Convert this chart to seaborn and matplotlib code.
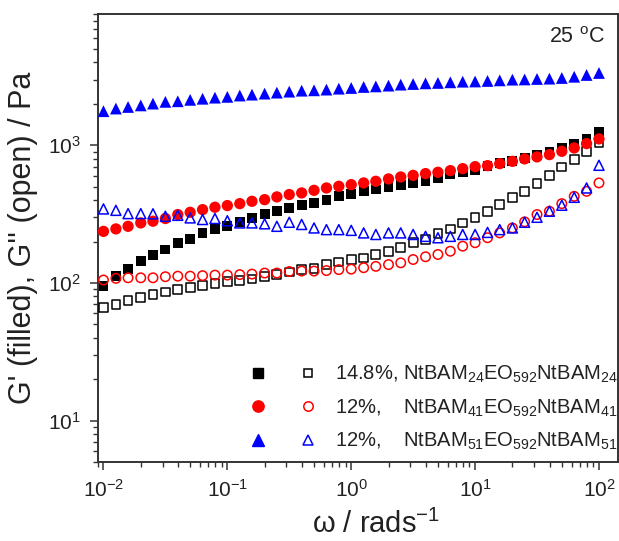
import matplotlib
matplotlib.use("Agg")
import numpy as np
import pandas as pd
import seaborn as sns
import matplotlib.pyplot as plt
from matplotlib.lines import Line2D
from matplotlib.legend_handler import HandlerTuple
from matplotlib.ticker import LogLocator, NullFormatter

# ---------------- data ----------------
omega = [0.01, 0.0126, 0.0158, 0.02, 0.0251, 0.0316, 0.0398, 0.0501, 0.0631, 0.0794,
         0.1, 0.126, 0.158, 0.2, 0.251, 0.316, 0.398, 0.501, 0.631, 0.794,
         1.0, 1.26, 1.58, 2.0, 2.51, 3.16, 3.98, 5.01, 6.31, 7.94,
         10.0, 12.6, 15.8, 20.0, 25.1, 31.6, 39.8, 50.1, 63.1, 79.4, 100.0]

g1_storage = [94.6, 112, 127, 144, 159, 175, 196, 209, 231, 247,
              258, 276, 297, 319, 332, 351, 367, 382, 399, 426,
              442, 463, 477, 499, 518, 533, 548, 580, 613, 637,
              666, 704, 740, 770, 805, 850, 895, 960, 1020, 1110, 1260]
g1_loss = [66, 70, 74.5, 78, 82, 86, 90, 93, 96, 99,
           102, 104, 107, 112, 115, 120, 125, 128, 136, 142,
           148, 152, 161, 170, 180, 196, 207, 228, 247, 273,
           297, 332, 371, 419, 463, 527, 603, 697, 787, 905, 1041]
g2_storage = [237, 247, 258, 273, 281, 294, 314, 326, 341, 355,
              365, 377, 392, 403, 422, 439, 451, 471, 490, 504,
              518, 533, 548, 570, 589, 605, 623, 637, 655, 677,
              700, 712, 736, 765, 797, 824, 856, 905, 957, 1029, 1113]
g2_loss = [105, 108, 109, 109, 109, 111, 112, 112, 113, 114,
           114, 115, 116, 118, 118, 121, 122, 122, 123, 125,
           126, 129, 132, 136, 140, 148, 155, 161, 170, 185,
           196, 213, 231, 251, 278, 314, 332, 377, 426, 463, 533]
g3_storage = [1770, 1850, 1900, 1950, 2010, 2070, 2090, 2140, 2180, 2220,
              2250, 2300, 2335, 2375, 2415, 2455, 2495, 2510, 2540, 2580,
              2610, 2655, 2680, 2715, 2760, 2790, 2820, 2840, 2870, 2900,
              2910, 2935, 2965, 3000, 3010, 3035, 3050, 3085, 3150, 3245, 3355]
g3_loss = [345, 337, 319, 319, 318, 305, 310, 297, 289, 294,
           283, 273, 273, 269, 258, 276, 266, 251, 244, 244,
           241, 231, 225, 231, 231, 225, 218, 213, 218, 225,
           225, 233, 244, 251, 276, 300, 332, 367, 419, 490, 716]

labels = [r"14.8%, NtBAM$_{24}$EO$_{592}$NtBAM$_{24}$",
          r"12%,    NtBAM$_{41}$EO$_{592}$NtBAM$_{41}$",
          r"12%,    NtBAM$_{51}$EO$_{592}$NtBAM$_{51}$"]
colors = ["black", "red", "blue"]
markers = ["s", "o", "^"]
x_label = "\u03c9 / rads$^{-1}$"
y_label = "G' (filled), G'' (open) / Pa"
temp_label = r"25 $^{\mathrm{o}}$C"

# ---------------- style ----------------
sns.set_theme(style="ticks")
plt.rcParams["font.family"] = ["Liberation Sans", "DejaVu Sans"]
plt.rcParams["mathtext.fontset"] = "custom"
plt.rcParams["mathtext.rm"] = "Liberation Sans"
plt.rcParams["mathtext.it"] = "Liberation Sans:italic"
plt.rcParams["mathtext.bf"] = "Liberation Sans:bold"
plt.rcParams["mathtext.sf"] = "Liberation Sans"

fig = plt.figure(figsize=(6.19, 5.41), dpi=100)
ax = fig.add_axes([97.5 / 619, 1 - 462 / 541, (617.7 - 97.5) / 619, (462 - 14) / 541])

series = [
    (g1_storage, g1_loss, colors[0], markers[0], 50, 40),
    (g2_storage, g2_loss, colors[1], markers[1], 66, 46),
    (g3_storage, g3_loss, colors[2], markers[2], 72, 52),
]
z = 3
for gs, gl, c, m, s_f, s_o in series:
    sns.scatterplot(x=omega, y=gs, marker=m, s=s_f, color=c, edgecolor="none",
                    linewidth=0, ax=ax, zorder=z, legend=False)
    sns.scatterplot(x=omega, y=gl, marker=m, s=s_o, facecolor="none", edgecolor=c,
                    linewidth=1.1, ax=ax, zorder=z + 1, legend=False)
    z += 2

ax.set_xscale("log")
ax.set_yscale("log")
ax.set_xlim(0.00895, 141.6)
ax.set_ylim(5.0, 9000)

ax.xaxis.set_major_locator(LogLocator(base=10, numticks=20))
ax.xaxis.set_minor_locator(LogLocator(base=10, subs=np.arange(2, 10), numticks=20))
ax.yaxis.set_major_locator(LogLocator(base=10, numticks=20))
ax.yaxis.set_minor_locator(LogLocator(base=10, subs=np.arange(2, 10), numticks=20))
ax.xaxis.set_minor_formatter(NullFormatter())
ax.yaxis.set_minor_formatter(NullFormatter())

spine_c = "#333333"
for sp in ax.spines.values():
    sp.set_visible(True)
    sp.set_linewidth(1.4)
    sp.set_color(spine_c)
ax.tick_params(which="major", direction="out", length=6, width=1.1, color=spine_c,
               labelsize=15, labelcolor="#222222", pad=6)
ax.tick_params(which="minor", direction="out", length=3.5, width=1.0, color=spine_c)
ax.tick_params(top=False, right=False, which="both")

ax.set_xlabel(x_label, fontsize=21, color="#222222")
ax.xaxis.set_label_coords(0.535, -0.106)
ax.set_ylabel(y_label, fontsize=22, color="#222222")
ax.yaxis.set_label_coords(-0.114, 0.5)

ax.text(0.9756, 0.9346, temp_label, transform=ax.transAxes, ha="right",
        va="baseline", fontsize=15.5, color="#222222")

handles = []
for (gs, gl, c, m, s_f, s_o) in series:
    hf = Line2D([], [], marker=m, linestyle="", color=c, markersize=np.sqrt(s_f))
    ho = Line2D([], [], marker=m, linestyle="", markerfacecolor="none",
                markeredgecolor=c, markeredgewidth=1.1, markersize=np.sqrt(s_o))
    handles.append((hf, ho))
leg = ax.legend(handles, labels, handler_map={tuple: HandlerTuple(ndivide=None, pad=0)},
                loc="upper left", bbox_to_anchor=(0.2605, 0.219), frameon=False,
                fontsize=14.5, handlelength=4.97, handletextpad=0.1, labelspacing=0.6,
                borderaxespad=0, borderpad=0)
for t in leg.get_texts():
    t.set_color("#222222")

fig.savefig("out.png", dpi=100)
